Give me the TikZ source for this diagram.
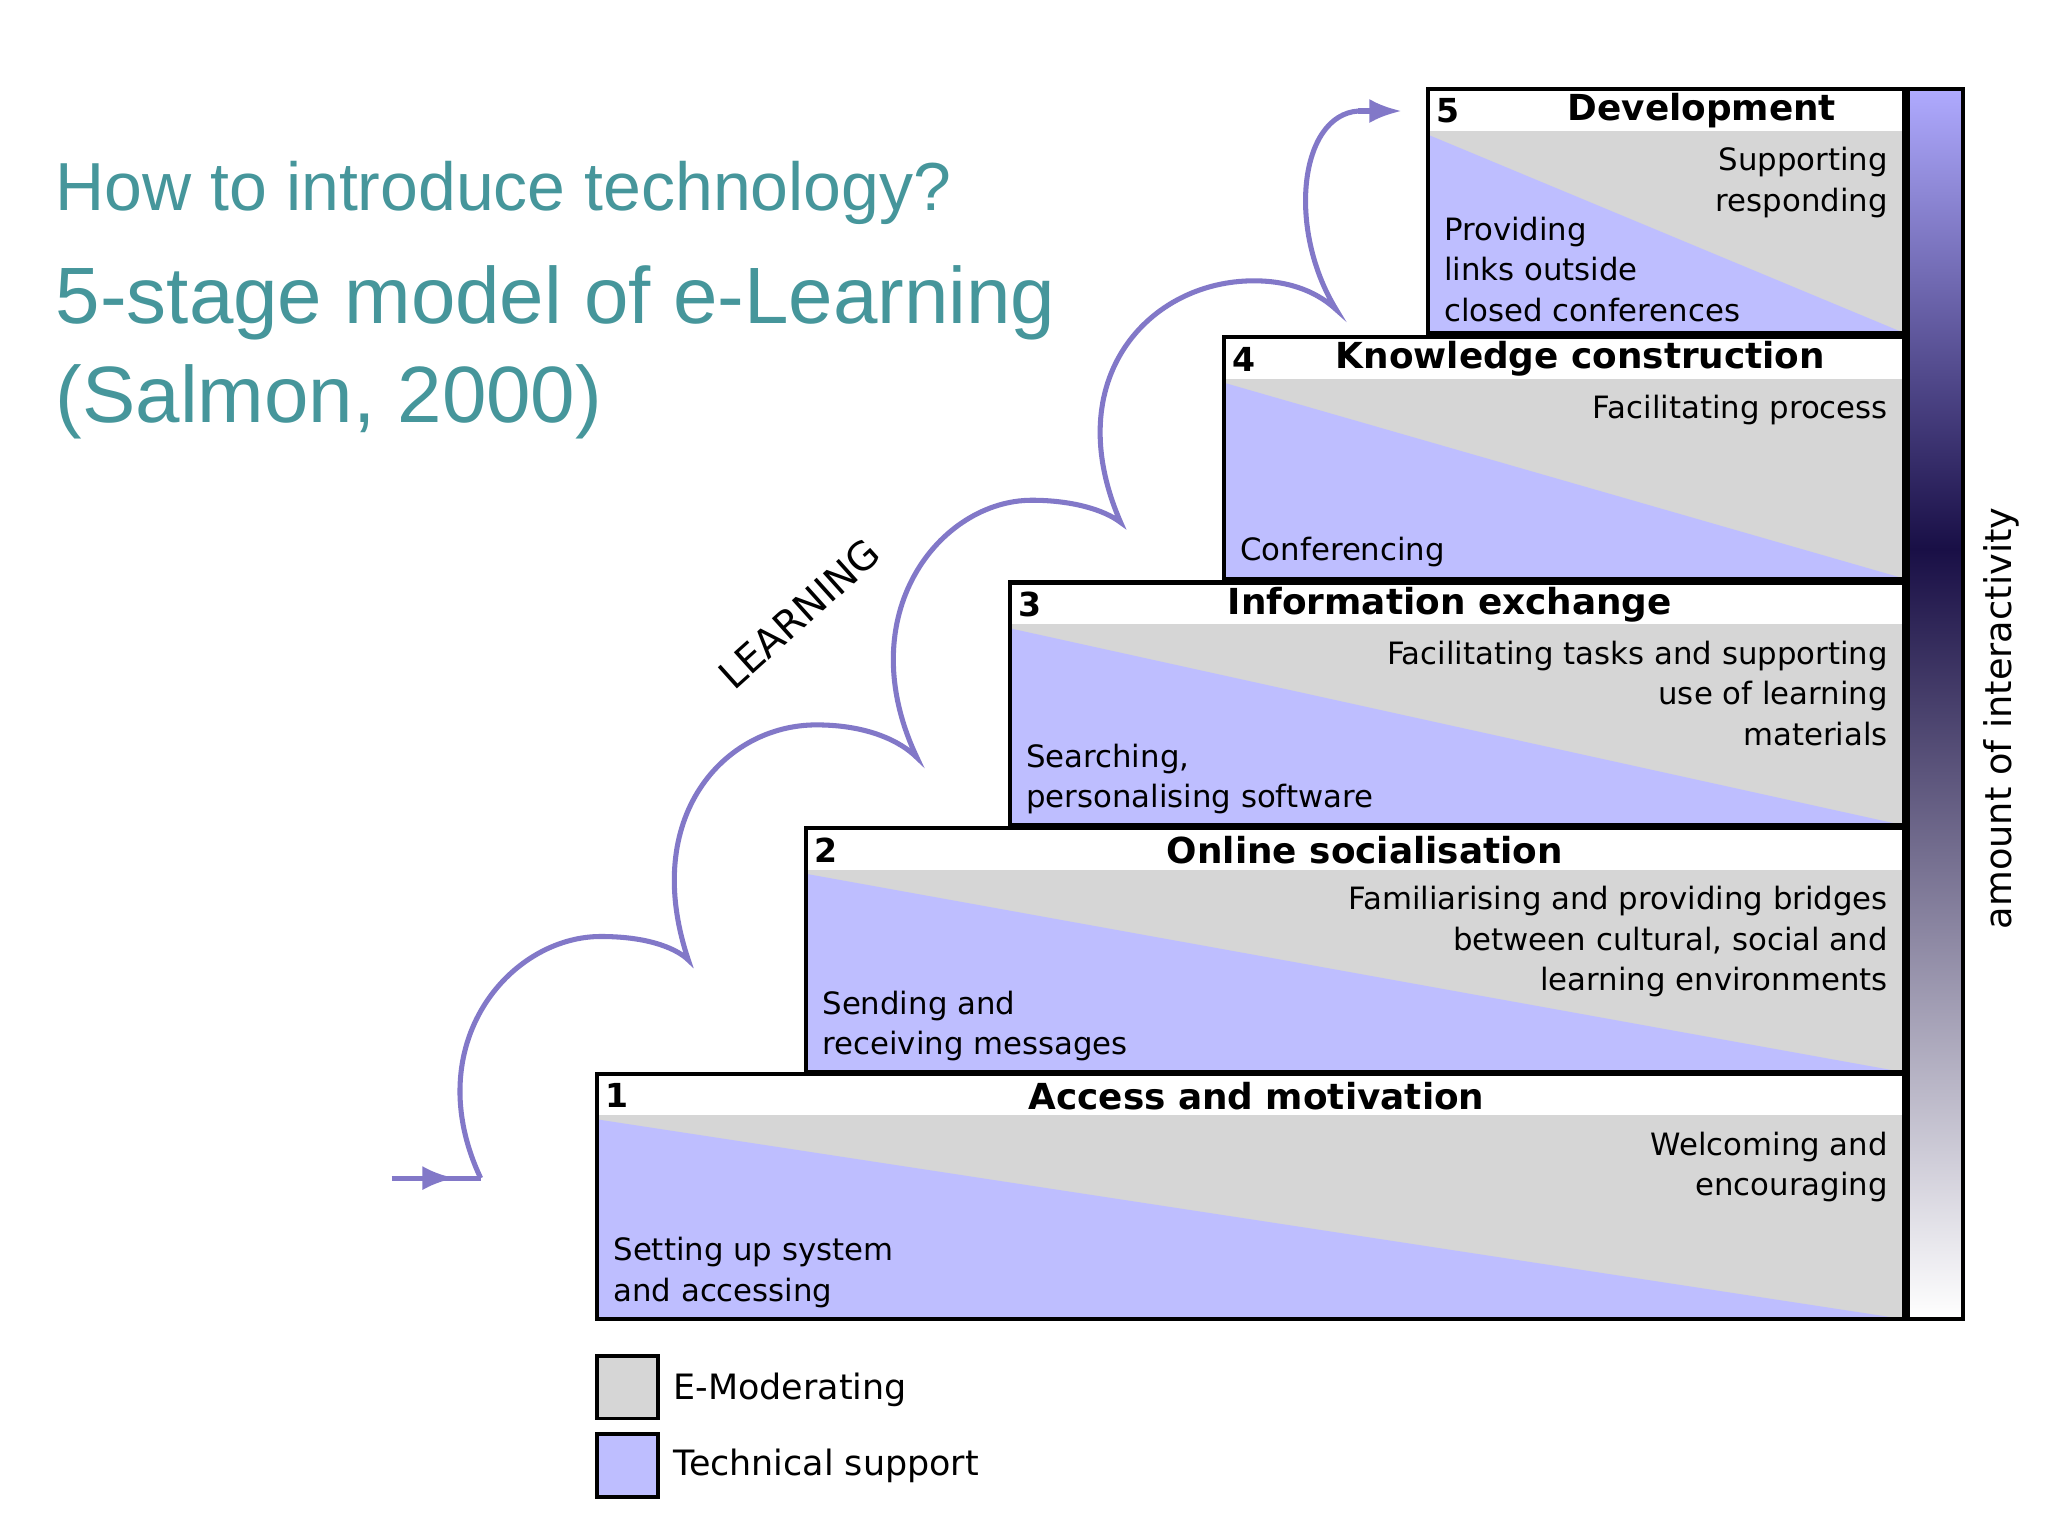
\documentclass[tikz,border=0pt]{standalone}
\usepackage{fontspec}
\setmainfont{DejaVu Sans}
\newfontfamily\titlefont{Liberation Sans}
\usetikzlibrary{arrows.meta}
\definecolor{tgray}{RGB}{214,214,214}
\definecolor{tblue}{RGB}{190,190,255}
\definecolor{teal}{RGB}{70,150,155}
\definecolor{arc}{RGB}{130,120,200}
\definecolor{navy}{RGB}{25,15,70}
\definecolor{bartop}{RGB}{175,170,255}
\tikzset{
  box/.style={draw=black,line width=0.9pt},
  num/.style={anchor=west,font=\fontsize{7.2}{8}\selectfont\bfseries,inner sep=0},
  head/.style={font=\fontsize{7.8}{8}\selectfont\bfseries,inner sep=0},
  rtxt/.style={anchor=north east,align=right,font=\fontsize{6.7}{8.8}\selectfont,inner sep=0},
  ltxt/.style={anchor=south west,align=left,font=\fontsize{6.7}{8.8}\selectfont,inner sep=0},
  arcline/.style={draw=arc,line width=1.1pt},
}
\newcommand{\stage}[9]{% x1 y1 y2 num head headx righttext lefttext name
  \fill[tgray] (#1,#2+32) rectangle (1458,#3);
  \fill[tblue] (#1,#2+35) -- (#1,#3) -- (1458,#3) -- cycle;
  \draw[box] (#1,#2) rectangle (1458,#3);
  \node[num] (#9n) at (#1+6,#2+17) {#4};
  \node[head] (#9h) at (#6,#2+17) {#5};
  \node[rtxt] (#9r) at (1446,#2+44) {#7};
  \node[ltxt] (#9l) at (#1+12,#3-8) {#8};
}
\begin{document}
\begin{tikzpicture}[x=0.01cm,y=-0.01cm]
\useasboundingbox (0,0) rectangle (1568,1176);
\fill[white] (0,0) rectangle (1568,1176);
\node[anchor=west,text=teal,font=\titlefont\fontsize{14.8}{16}\selectfont,inner sep=0] (t1) at (42,148) {How to introduce technology?};
\node[anchor=north west,align=left,text=teal,font=\titlefont\fontsize{17.4}{21.5}\selectfont,inner sep=0] (t2) at (42,203) {5-stage model of e-Learning\\(Salmon, 2000)};
\stage{1093}{68}{255}{5}{Development}{1303}{Supporting\\responding}{Providing\\links outside\\closed conferences}{s5}
\stage{937}{258}{443}{4}{Knowledge construction}{1210}{Facilitating process}{Conferencing}{s4}
\stage{773}{446}{632}{3}{Information exchange}{1110}{Facilitating tasks and supporting\\use of learning\\materials}{Searching,\\personalising software}{s3}
\stage{617}{634}{821}{2}{Online socialisation}{1045}{Familiarising and providing bridges\\between cultural, social and\\learning environments}{Sending and\\receiving messages}{s2}
\stage{457}{822}{1010}{1}{Access and motivation}{962}{Welcoming and\\encouraging}{Setting up system\\and accessing}{s1}
% right bar
\shade[top color=bartop,bottom color=navy] (1461,68) rectangle (1503,420);
\shade[top color=navy,bottom color=white] (1461,420) rectangle (1503,1010);
\draw[box] (1461,68) rectangle (1503,1010);
\node[rotate=90,font=\fontsize{8}{9}\selectfont,inner sep=0] (amt) at (1532,550) {amount of interactivity};
% learning curve
\coordinate (a0) at (300,902);
\coordinate (a1) at (368,902);
\draw[arcline,-{Latex[length=7pt]}] (a0) -- (348,902);
\draw[arcline] (a0) -- (a1);
\draw[arcline] (a1) .. controls (320,800) and (390,717) .. (460,717) .. controls (500,717) and (520,728) .. (527,735)
  .. controls (490,625) and (555,555) .. (625,555) .. controls (665,555) and (690,568) .. (702,580)
  .. controls (650,470) and (720,383) .. (790,383) .. controls (820,383) and (845,390) .. (858,400)
  .. controls (810,290) and (880,215) .. (960,215) .. controls (990,215) and (1010,225) .. (1023,237)
  .. controls (985,175) and (995,88) .. (1040,85) coordinate (a2);
\draw[arcline,-{Latex[length=7pt]}] (a2) -- (1073,85) coordinate (a3);
\node[rotate=42,font=\fontsize{8.5}{9}\selectfont,inner sep=0] (learn) at (612,470) {LEARNING};
% legend
\draw[fill=tgray,line width=0.8pt] (457,1038) rectangle (504,1086);
\draw[fill=tblue,line width=0.8pt] (457,1098) rectangle (504,1146);
\node[anchor=west,font=\fontsize{7.6}{9}\selectfont,inner sep=0] (l1) at (515,1064) {E-Moderating};
\node[anchor=west,font=\fontsize{7.6}{9}\selectfont,inner sep=0] (l2) at (515,1122) {Technical support};
\end{tikzpicture}
\end{document}
